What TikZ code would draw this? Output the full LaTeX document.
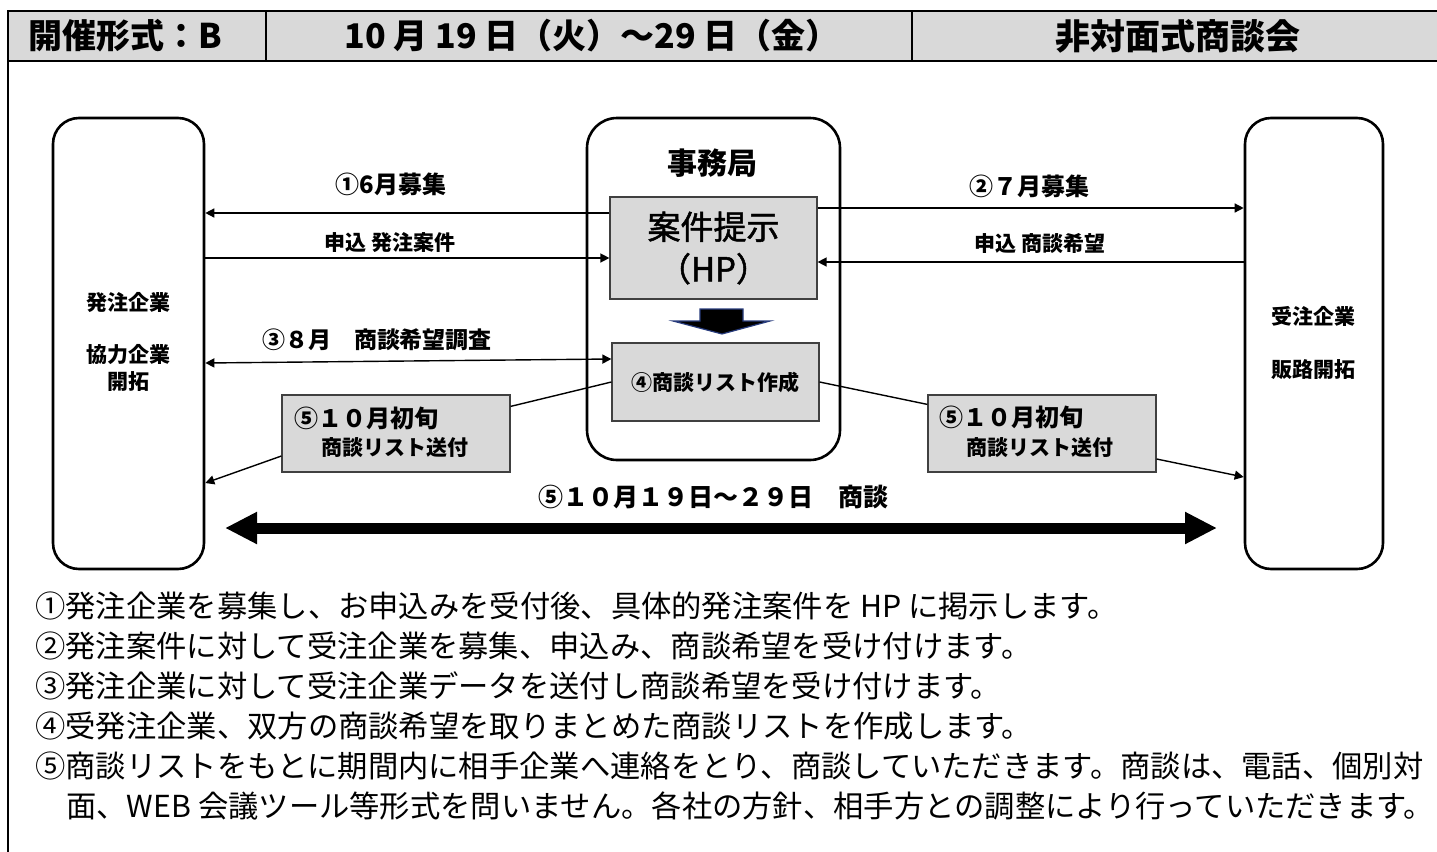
\documentclass[tikz,border=0pt]{standalone}
\usepackage{fontspec}
\setmainfont{Noto Sans CJK JP}
\newfontfamily\jpmed{Noto Sans CJK JP}[FakeBold=1.5]
\usetikzlibrary{arrows.meta,calc}
\definecolor{hdrgray}{HTML}{D9D9D9}
\definecolor{boxgray}{HTML}{D9D9D9}
\definecolor{glow}{RGB}{40,60,125}
\tikzset{
  frameline/.style={line width=1.3pt},
  roundbox/.style={draw, line width=1.3pt, rounded corners=13pt, inner sep=0pt},
  graybox/.style={draw=black!75, line width=0.6pt, fill=boxgray, inner sep=0pt},
  conn/.style={line width=0.7pt},
  tipr/.style={conn, -{Triangle[length=4.5pt,width=4.5pt]}},
  tipb/.style={conn, {Triangle[length=4.5pt,width=4.5pt]}-{Triangle[length=4.5pt,width=4.5pt]}},
  hdr/.style={font=\bfseries\fontsize{17pt}{19pt}\selectfont, inner sep=0pt},
  lbl/.style={font=\bfseries\fontsize{10.5pt}{12pt}\selectfont, inner sep=0pt},
  lblb/.style={font=\bfseries\fontsize{12pt}{14pt}\selectfont, inner sep=0pt},
  bodyline/.style={anchor=west, font=\fontsize{15.15pt}{18pt}\selectfont, inner sep=0pt},
}
\begin{document}
\begin{tikzpicture}[x=0.5pt,y=-0.5pt]
\useasboundingbox (0,0) rectangle (1437,852);
% header
\fill[hdrgray] (8,11) rectangle (1437,61);
\draw[frameline] (8,852) -- (8,11) -- (1437,11);
\draw[frameline] (8,61) -- (1437,61);
\draw[frameline] (266,11) -- (266,61);
\draw[frameline] (912,11) -- (912,61);
\node[hdr, anchor=west] (h1) at (28,36) {開催形式：B};
\node[hdr] (h2) at (592,36) {10 月 19 日（火）～29 日（金）};
\node[hdr, font=\bfseries\fontsize{17.5pt}{19pt}\selectfont] (h3) at (1178,36) {非対面式商談会};

% main boxes
\node[roundbox, minimum width=75.5pt, minimum height=225.5pt] (L) at (128.5,343.5) {};
\node[roundbox, minimum width=69pt, minimum height=225.5pt] (R) at (1314,343.5) {};
\node[roundbox, rounded corners=15pt, minimum width=126.5pt, minimum height=171pt] (C) at (713.5,289) {};
\node[font=\bfseries\fontsize{15pt}{17pt}\selectfont, inner sep=0pt] (jim) at (712,163) {事務局};
\node[graybox, minimum width=103.5pt, minimum height=51pt, align=center,
      font=\jpmed\fontsize{16.5pt}{21pt}\selectfont] (hp) at (713.5,248) {案件提示\\（HP）};
\node[graybox, minimum width=103.5pt, minimum height=39pt,
      font=\bfseries\fontsize{10.5pt}{12pt}\selectfont] (l4) at (715.5,382) {④商談リスト作成};
\node[graybox, minimum width=114pt, minimum height=38.5pt] (l5) at (396,433.5) {};
\node[graybox, minimum width=114pt, minimum height=38.5pt] (r5) at (1042,433.5) {};
\node[lblb, anchor=west] (l5a) at (294,418) {⑤１０月初旬};
\node[lbl] (l5b) at (395,448) {商談リスト送付};
\node[lblb, anchor=west] (r5a) at (939,417) {⑤１０月初旬};
\node[lbl] (r5b) at (1040,448) {商談リスト送付};

% side texts
\node[lbl] (t1) at (128,302) {発注企業};
\node[lbl] (t2) at (128,355) {協力企業};
\node[lbl] (t3) at (128,382) {開拓};
\node[lbl] (t4) at (1313,316) {受注企業};
\node[lbl] (t5) at (1313,370) {販路開拓};

% block arrow
\filldraw[fill=black, draw=glow, line width=0.6pt]
  (700,309) -- (743,309) -- (743,321) -- (770,321) -- (722,334) -- (673,321) -- (700,321) -- cycle;

% connectors
\coordinate (a1s) at ([yshift=17.5pt]hp.west);
\draw[tipr] (a1s) -- (a1s -| L.east);
\node[lblb] (la1) at (391,184) {①6月募集};
\coordinate (a2s) at ([yshift=-5pt]hp.west);
\draw[tipr] (a2s -| L.east) -- (a2s);
\node[lbl] (la2) at (390,243) {申込 発注案件};
\coordinate (b1s) at ([yshift=20pt]hp.east);
\draw[tipr] (b1s) -- (b1s -| R.west);
\node[lblb] (lb1) at (1029,186) {②７月募集};
\coordinate (b2s) at ([yshift=-7pt]hp.east);
\draw[tipr] (b2s -| R.west) -- (b2s);
\node[lbl] (lb2) at (1040,243) {申込 商談希望};
\coordinate (c3r) at ([yshift=11.5pt]l4.west);
\coordinate (c3l) at ([yshift=-9.75pt]L.east);
\draw[tipb] (c3l) -- (c3r);
\node[font=\bfseries\fontsize{11.5pt}{13pt}\selectfont, inner sep=0pt] (lc3) at (377,340) {③８月　商談希望調査};
\draw[conn] (l4.west) -- ([yshift=-6pt]l5.north east);
\draw[tipr] ([yshift=-11.25pt]l5.west) -- ([yshift=-69.75pt]L.east);
\draw[conn] (l4.east) -- ([yshift=-5pt]r5.north west);
\draw[tipr] ([yshift=-12.75pt]r5.east) -- ([yshift=-66.75pt]R.west);

% big double arrow
\coordinate (bigL) at (225,528);
\coordinate (bigR) at (1217,528);
\draw[line width=5.5pt, {Triangle[length=16pt,width=15pt]}-{Triangle[length=16pt,width=15pt]}] (bigL) -- (bigR);
\node[font=\bfseries\fontsize{12.5pt}{14pt}\selectfont, inner sep=0pt] (lbig) at (713,497) {⑤１０月１９日～２９日　商談};

% bottom text
\node[bodyline] (p1) at (35,606) {①発注企業を募集し、お申込みを受付後、具体的発注案件を HP に掲示します。};
\node[bodyline] (p2) at (35,646) {②発注案件に対して受注企業を募集、申込み、商談希望を受け付けます。};
\node[bodyline] (p3) at (35,686) {③発注企業に対して受注企業データを送付し商談希望を受け付けます。};
\node[bodyline] (p4) at (35,726) {④受発注企業、双方の商談希望を取りまとめた商談リストを作成します。};
\node[bodyline] (p5) at (35,766) {⑤商談リストをもとに期間内に相手企業へ連絡をとり、商談していただきます。商談は、電話、個別対};
\node[bodyline] (p6) at (66,806) {面、WEB 会議ツール等形式を問いません。各社の方針、相手方との調整により行っていただきます。};
\end{tikzpicture}
\end{document}
